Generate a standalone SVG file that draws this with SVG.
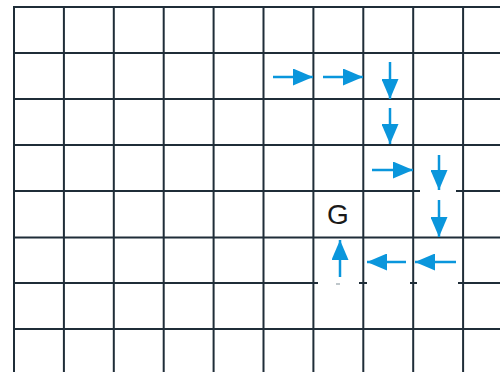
<svg xmlns="http://www.w3.org/2000/svg" width="500" height="372" viewBox="0 0 500 372">
<defs>
<style>
.g{stroke:#1f2d38;stroke-width:2;fill:none}
.a{stroke:#0a96dc;stroke-width:2.5;fill:none;marker-end:url(#ah)}
.t{font-family:"Liberation Sans",Arial,sans-serif;font-size:28px;fill:#1a1a1a;text-anchor:middle}
</style>
<marker id="ah" viewBox="0 0 20 17" refX="20" refY="8.5" markerWidth="20" markerHeight="17" markerUnits="userSpaceOnUse" orient="auto">
<path d="M0,0 L20,8.5 L0,17 z" fill="#0a96dc"/>
</marker>
</defs>
<rect width="500" height="372" fill="#fff"/>
<g id="grid" class="g">
<path d="M14,6V372M63.9,6V372M113.8,6V372M163.7,6V372M213.6,6V372M263.5,6V372M313.4,6V372M363.3,6V372M413.2,6V372M463.1,6V372"/>
<path d="M13,7H500M13,53H500M13,99H500M13,145H500M13,237.5H500M13,329H500"/>
<path d="M13,191H420M456,191H500"/>
<path d="M13,283H318M359,283H367M410,283H417M458,283H500"/>
<path d="M336,284H340" stroke="#aab4ba" stroke-width="1.5"/>
</g>
<g id="goal">
<text class="t" x="338" y="224">G</text>
</g>
<g id="connectors">
<line class="a" x1="273" y1="77" x2="313" y2="77"/>
<line class="a" x1="323" y1="77" x2="363" y2="77"/>
<line class="a" x1="390" y1="62" x2="390" y2="99"/>
<line class="a" x1="390" y1="108" x2="390" y2="144"/>
<line class="a" x1="372" y1="170" x2="413" y2="170"/>
<line class="a" x1="439" y1="155" x2="439" y2="190"/>
<line class="a" x1="439" y1="200" x2="439" y2="237"/>
<line class="a" x1="456" y1="262" x2="415" y2="262"/>
<line class="a" x1="406" y1="262" x2="367" y2="262"/>
<line class="a" x1="340" y1="277" x2="340" y2="240"/>
</g>
</svg>
